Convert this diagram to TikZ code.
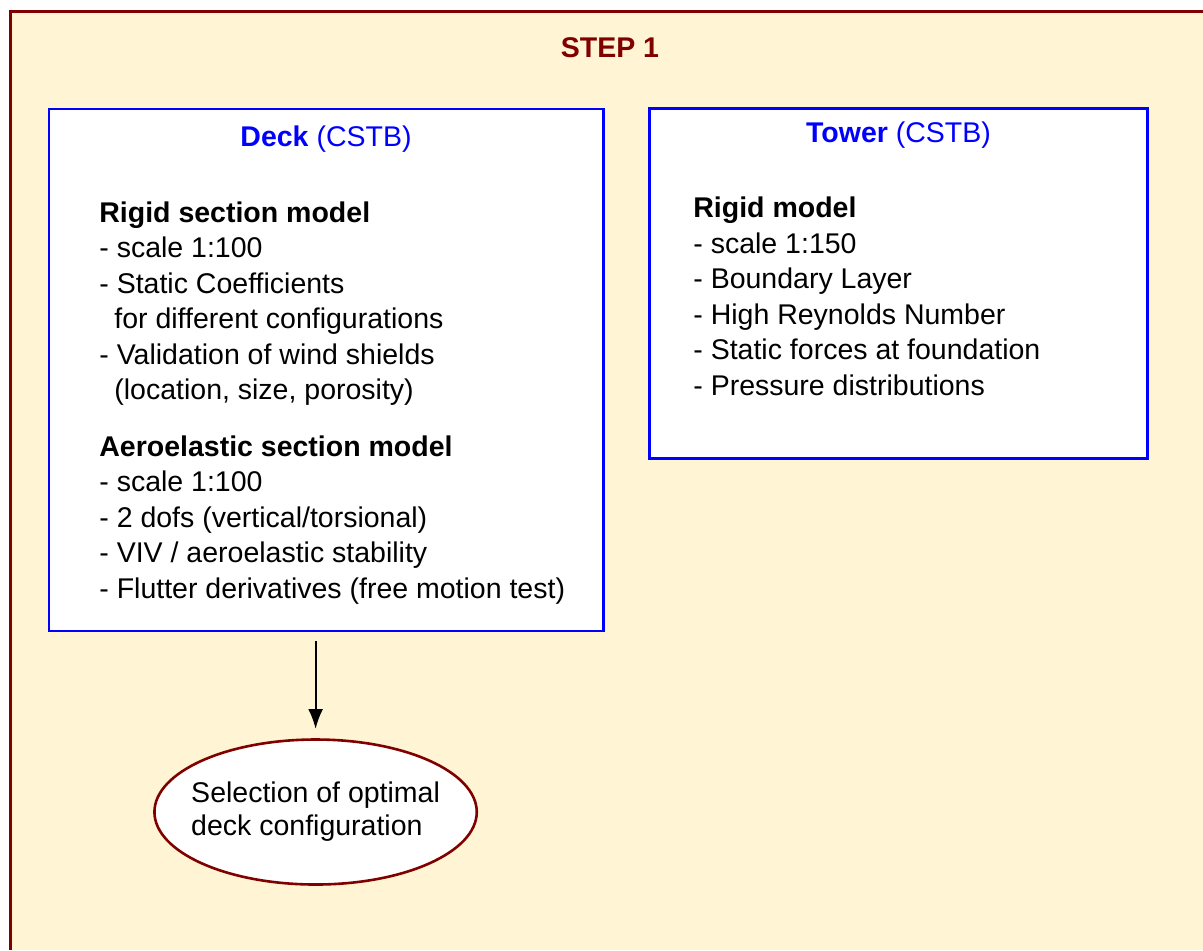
\documentclass[tikz,border=0pt]{standalone}
\usepackage{fontspec}
\setmainfont{Liberation Sans}
\usepackage{xcolor}
\usetikzlibrary{arrows.meta, shapes.geometric}
\definecolor{framered}{RGB}{128,0,0}
\definecolor{stepcream}{RGB}{255,245,212}
\definecolor{boxblue}{RGB}{0,0,255}

\begin{document}
\begin{tikzpicture}[x=0.5pt, y=-0.5pt,
    panel/.style={draw=boxblue, line width=1.25pt, fill=white, rectangle, inner sep=0pt},
    bodytext/.style={anchor=north west, align=left, inner sep=0pt, font=\fontsize{14.25pt}{17.75pt}\selectfont},
    titletext/.style={anchor=base, inner sep=0pt, text=boxblue, font=\fontsize{14.25pt}{17.75pt}\selectfont}]
    % Page and frame
    \useasboundingbox (0,0) rectangle (1203,950);
    \fill[white] (0,0) rectangle (1203,950);
    \fill[stepcream] (10.7,11.7) rectangle (1203,950);
    \draw[framered, line width=1.5pt] (10.7,950) -- (10.7,11.7) -- (1203,11.7);

    % Step title
    \node[anchor=base, inner sep=0pt, text=framered, font=\bfseries\fontsize{14.25pt}{17.75pt}\selectfont] (step) at (610,57.3) {STEP 1};

    % Deck box
    \node[panel, minimum width=277.15pt, minimum height=261pt] (deck) at (326.15,370) {};
    \node[titletext] (decktitle) at (326,146) {\textbf{Deck} (CSTB)};
    \node[bodytext] (deckbody) at (99,197.2) {\strut\textbf{Rigid section model}\\
        - scale 1:100\\
        - Static Coefficients\\
        \hspace*{7.5pt}for different configurations\\
        - Validation of wind shields\\
        \hspace*{7.5pt}(location, size, porosity)\\[10.3pt]
        \textbf{Aeroelastic section model}\\
        - scale 1:100\\
        - 2 dofs (vertical/torsional)\\
        - VIV / aeroelastic stability\\
        - Flutter derivatives (free motion test)};

    % Tower box
    \node[panel, minimum width=249pt, minimum height=174.9pt] (tower) at (898.5,283.6) {};
    \node[titletext] (towertitle) at (898.5,142) {\textbf{Tower} (CSTB)};
    \node[bodytext] (towerbody) at (693,192.5) {\strut\textbf{Rigid model}\\
        - scale 1:150\\
        - Boundary Layer\\
        - High Reynolds Number\\
        - Static forces at foundation\\
        - Pressure distributions};

    % Selection
    \node[draw=framered, line width=1.3pt, fill=white, ellipse, minimum width=160pt, minimum height=72.5pt, inner xsep=-5.2pt, inner ysep=0pt, align=left, font=\fontsize{14.25pt}{16.6pt}\selectfont] (select) at (315.6,812) {Selection of optimal\\deck configuration};

    % Arrow
    \draw[-{Latex[length=10pt, width=7.5pt]}, line width=1.1pt, shorten <=4.5pt, shorten >=4.6pt] (select.north |- deck.south) -- (select.north);
\end{tikzpicture}
\end{document}
